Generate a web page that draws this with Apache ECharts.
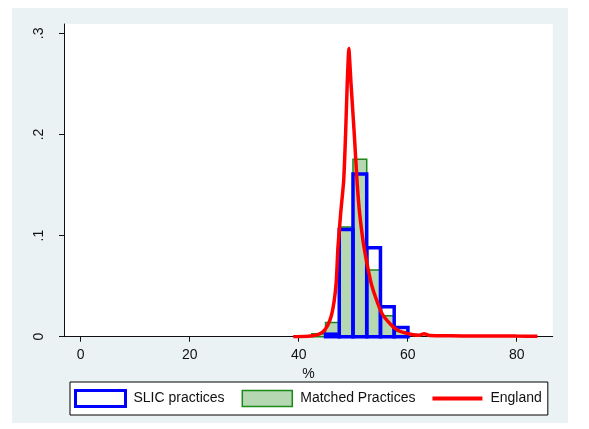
<!DOCTYPE html>
<html>
<head>
<meta charset="utf-8">
<script src="https://cdn.jsdelivr.net/npm/echarts@6/dist/echarts.min.js"></script>
<style>
html,body{margin:0;padding:0;background:#fff;}
#chart{width:589px;height:429px;}
</style>
</head>
<body>
<div id="chart"></div>
<script>
// Histogram bin edges (%)
var binEdges = [42.4, 44.92, 47.44, 49.96, 52.48, 55.0, 57.52, 60.04];
// Densities per bin
var slicHeights    = [0, 0.0025, 0.106, 0.161, 0.088, 0.0296, 0.0092];
var matchedHeights = [0.003, 0.014, 0.1086, 0.1754, 0.066, 0.0207, 0.0052];
// England kernel density
var engX = [39.0, 41.0, 42.5, 43.5, 44.5, 45.3, 46.0, 46.5, 46.9, 47.2, 47.7, 48.25, 48.6, 48.9, 49.2, 49.6, 50.2, 50.7, 51.2, 52.0, 53.2, 54.1, 55.3, 56.8, 58.0, 59.3, 61.0, 62.2, 63.0, 63.8, 66.0, 70.0, 75.0, 80.0, 83.8];
var engY = [0.0, 0.0003, 0.001, 0.002, 0.005, 0.011, 0.021, 0.035, 0.055, 0.088, 0.122, 0.154, 0.2, 0.25, 0.285, 0.25, 0.2, 0.154, 0.121, 0.088, 0.055, 0.039, 0.0227, 0.0125, 0.007, 0.004, 0.002, 0.0015, 0.003, 0.0015, 0.001, 0.0008, 0.0008, 0.0006, 0.0005];
// Tick labels
var xTicks = [0, 20, 40, 60, 80];
var yTicks = [0, 0.1, 0.2, 0.3];
var yTickLabels = ['0', '.1', '.2', '.3'];
var seriesNames = ['SLIC practices', 'Matched Practices', 'England'];

function binData(h) {
  var out = [];
  for (var i = 0; i < h.length; i++) {
    if (h[i] > 0) out.push([binEdges[i], binEdges[i + 1], h[i]]);
  }
  return out;
}
function makeRender(style) {
  return function (params, api) {
    var p0 = api.coord([api.value(0), api.value(2)]);
    var p1 = api.coord([api.value(1), 0]);
    return {
      type: 'rect',
      shape: { x: p0[0], y: p0[1], width: p1[0] - p0[0], height: p1[1] - p0[1] },
      style: style
    };
  };
}
var engData = engX.map(function (x, i) { return [x, engY[i]]; });

var FONT = '"Liberation Sans", Arial, sans-serif';
var chart = echarts.init(document.getElementById('chart'), null, { renderer: 'canvas' });
chart.setOption({
  animation: false,
  backgroundColor: '#ffffff',
  graphic: [{
    type: 'rect', z: -10, silent: true,
    shape: { x: 12, y: 8, width: 556, height: 415 },
    style: { fill: '#EAF2F3' }
  }],
  grid: {
    left: 64, right: 36.3, top: 24, bottom: 92.3,
    show: true, backgroundColor: '#ffffff', borderWidth: 0
  },
  legend: {
    left: 70, top: 382,
    orient: 'horizontal',
    backgroundColor: '#ffffff',
    borderColor: '#000000', borderWidth: 1,
    padding: [7, 6, 7, 4],
    itemWidth: 50, itemHeight: 16, itemGap: 17,
    symbolKeepAspect: true,
    textStyle: { fontSize: 14, color: '#111', fontFamily: FONT, padding: [0, 0, 0, 3] },
    data: [
      { name: seriesNames[0], icon: 'rect', itemStyle: { color: '#ffffff', borderColor: '#0000ff', borderWidth: 3 } },
      { name: seriesNames[1], icon: 'rect', itemStyle: { color: '#b5d7b1', borderColor: '#1a8a1a', borderWidth: 1.5 } },
      { name: seriesNames[2], icon: 'path://M0,0L50,0L50,4L0,4Z', itemStyle: { color: '#ff0000', borderWidth: 0 } }
    ]
  },
  xAxis: {
    type: 'value', min: -3.06, max: 86.6,
    name: '%', nameLocation: 'middle', nameGap: 30,
    nameTextStyle: { fontSize: 14, color: '#111', fontFamily: FONT },
    axisLine: { onZero: false, lineStyle: { color: '#111', width: 1 } },
    axisTick: { show: true, length: 5, customValues: xTicks, lineStyle: { color: '#111' } },
    axisLabel: { customValues: xTicks, fontSize: 14, color: '#111', fontFamily: FONT, margin: 11 },
    splitLine: { show: false }
  },
  yAxis: {
    type: 'value', min: 0, max: 0.3093,
    axisLine: { show: true, onZero: false, lineStyle: { color: '#111', width: 1 } },
    axisTick: { show: true, length: 5, customValues: yTicks, lineStyle: { color: '#111' } },
    axisLabel: {
      customValues: yTicks, rotate: 90, fontSize: 14, color: '#111', fontFamily: FONT, margin: 18,
      formatter: function (v) {
        for (var i = 0; i < yTicks.length; i++) if (Math.abs(yTicks[i] - v) < 1e-9) return yTickLabels[i];
        return '';
      }
    },
    splitLine: { show: false }
  },
  series: [
    {
      name: seriesNames[1], type: 'custom', z: 2,
      itemStyle: { color: '#b5d7b1', borderColor: '#1a8a1a', borderWidth: 1.5 },
      renderItem: makeRender({ fill: '#b5d7b1', stroke: '#1a8a1a', lineWidth: 1.5 }),
      encode: { x: [0, 1], y: 2 },
      data: binData(matchedHeights)
    },
    {
      name: seriesNames[0], type: 'custom', z: 3,
      itemStyle: { color: '#ffffff', borderColor: '#0000ff', borderWidth: 3 },
      renderItem: makeRender({ fill: null, stroke: '#0000ff', lineWidth: 3.5 }),
      encode: { x: [0, 1], y: 2 },
      data: binData(slicHeights)
    },
    {
      name: seriesNames[2], type: 'line', z: 4,
      symbol: 'none', smooth: 0.15,
      lineStyle: { color: '#ff0000', width: 3.5 },
      itemStyle: { color: '#ff0000' },
      data: engData
    }
  ]
});
</script>
</body>
</html>
